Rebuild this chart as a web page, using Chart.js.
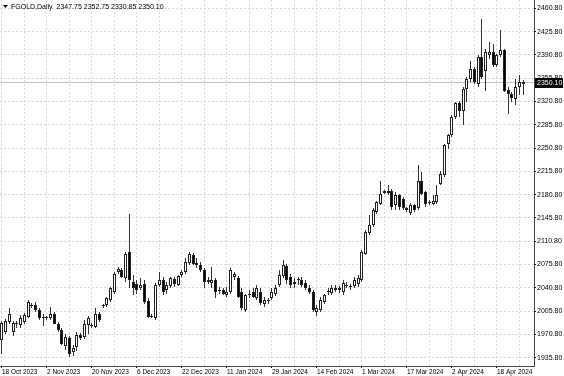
<!DOCTYPE html>
<html>
<head>
<meta charset="utf-8">
<script src="https://cdn.jsdelivr.net/npm/chart.js@4.4.0/dist/chart.umd.min.js"></script>
<style>
  body { margin: 0; background: #fff; }
  canvas { display: block; }
</style>
</head>
<body>
<canvas id="goldChart" width="564" height="376"></canvas>
<script>
// Daily candles, FGOLD
const opens = [
  1963, 1975, 1990, 1974, 1986, 1985, 1990, 1997, 2015, 2015,
  2007, 1995, 1995, 1995, 2002, 1987, 1977, 1953, 1966, 1945,
  1952, 1970, 1967, 1985, 1984, 1982, 2002, 2013, 2015, 2022,
  2035, 2065, 2067, 2055, 2094, 2050, 2047, 2040, 2047, 2021,
  1997, 1996, 2045, 2052, 2037, 2043, 2054, 2045, 2060, 2065,
  2078, 2090, 2078, 2075, 2068, 2050, 2048, 2053, 2037, 2037,
  2030, 2035, 2057, 2055, 2035, 2008, 2030, 2035, 2025, 2035,
  2017, 2021, 2025, 2032, 2045, 2058, 2073, 2057, 2046, 2052,
  2052, 2048, 2040, 2035, 2005, 2008, 2020, 2034, 2033, 2040,
  2038, 2035, 2045, 2043, 2044, 2047, 2052, 2092, 2123, 2135,
  2155, 2167, 2186, 2183, 2187, 2165, 2180, 2175, 2160, 2153,
  2165, 2160, 2202, 2185, 2170, 2167, 2170, 2197, 2210, 2257,
  2270, 2297, 2318, 2307, 2340, 2355, 2370, 2347, 2387, 2367,
  2390, 2395, 2375, 2390, 2398, 2338, 2332, 2325, 2342, 2347.75
];
const highs = [
  1991, 1994, 2010, 1991, 1991, 2000, 2003, 2022, 2018, 2019,
  2010, 2002, 1998, 2012, 2004, 1989, 1980, 1972, 1969, 1955,
  1975, 1973, 1992, 1999, 1988, 2010, 2004, 2017, 2027, 2042,
  2065, 2072, 2070, 2095, 2152, 2060, 2052, 2055, 2052, 2025,
  2002, 2048, 2065, 2057, 2050, 2057, 2057, 2060, 2068, 2085,
  2095, 2093, 2085, 2080, 2070, 2057, 2072, 2055, 2042, 2040,
  2042, 2070, 2065, 2058, 2040, 2032, 2037, 2040, 2045, 2040,
  2027, 2025, 2040, 2045, 2068, 2082, 2077, 2062, 2055, 2057,
  2057, 2052, 2045, 2037, 2015, 2027, 2032, 2040, 2045, 2045,
  2043, 2052, 2050, 2047, 2057, 2060, 2097, 2127, 2150, 2160,
  2172, 2202, 2188, 2195, 2190, 2185, 2182, 2177, 2162, 2168,
  2167, 2225, 2215, 2187, 2173, 2180, 2195, 2217, 2257, 2272,
  2300, 2320, 2322, 2342, 2357, 2382, 2372, 2390, 2445, 2400,
  2410, 2407, 2392, 2428, 2400, 2342, 2335, 2355, 2360, 2352.75
];
const lows = [
  1941, 1971, 1986, 1968, 1980, 1980, 1987, 1995, 2010, 2005,
  1993, 1983, 1992, 1992, 1986, 1975, 1955, 1947, 1937, 1939,
  1946, 1962, 1964, 1972, 1980, 1980, 1990, 2010, 2012, 2020,
  2032, 2062, 2055, 2050, 2040, 2030, 2032, 2037, 2017, 1995,
  1995, 1992, 2042, 2030, 2032, 2040, 2042, 2043, 2057, 2062,
  2075, 2075, 2070, 2065, 2040, 2047, 2040, 2025, 2032, 2030,
  2027, 2032, 2052, 2025, 2007, 2005, 2025, 2025, 2022, 2015,
  2012, 2017, 2022, 2028, 2042, 2055, 2047, 2040, 2040, 2045,
  2042, 2037, 2032, 2004, 1999, 2005, 2017, 2030, 2030, 2035,
  2033, 2030, 2040, 2038, 2040, 2042, 2050, 2090, 2120, 2132,
  2152, 2165, 2182, 2180, 2157, 2157, 2157, 2158, 2155, 2150,
  2155, 2157, 2180, 2162, 2165, 2165, 2167, 2195, 2207, 2250,
  2267, 2295, 2297, 2285, 2320, 2350, 2347, 2342, 2355, 2337,
  2385, 2372, 2372, 2387, 2335, 2302, 2320, 2315, 2330, 2330.85
];
const closes = [
  1988, 1991, 2002, 1988, 1987, 1995, 2000, 2019, 2014, 2007,
  1995, 1997, 1995, 2002, 1987, 1977, 1957, 1967, 1942, 1950,
  1970, 1965, 1987, 1996, 1983, 2002, 1993, 2015, 2025, 2040,
  2062, 2069, 2057, 2092, 2052, 2040, 2037, 2045, 2020, 1997,
  1998, 2045, 2052, 2035, 2045, 2055, 2046, 2058, 2065, 2080,
  2092, 2077, 2075, 2068, 2050, 2052, 2052, 2035, 2036, 2032,
  2035, 2067, 2062, 2027, 2010, 2030, 2032, 2027, 2040, 2018,
  2022, 2022, 2035, 2040, 2060, 2075, 2052, 2045, 2050, 2052,
  2045, 2040, 2035, 2008, 2010, 2022, 2030, 2035, 2040, 2038,
  2040, 2048, 2043, 2042, 2052, 2055, 2095, 2125, 2135, 2157,
  2170, 2182, 2184, 2187, 2162, 2180, 2162, 2160, 2157, 2165,
  2158, 2202, 2182, 2167, 2168, 2172, 2180, 2212, 2255, 2270,
  2297, 2318, 2307, 2340, 2355, 2370, 2350, 2387, 2357, 2395,
  2395, 2375, 2390, 2398, 2337, 2332, 2326, 2342, 2350, 2350.10
];

// date labels on the time axis, one every 12 bars
const tickLabels = [
  '18 Oct 2023', '2 Nov 2023', '20 Nov 2023', '6 Dec 2023', '22 Dec 2023', '11 Jan 2024',
  '29 Jan 2024', '14 Feb 2024', '1 Mar 2024', '17 Mar 2024', '2 Apr 2024', '18 Apr 2024'
];
// price levels on the right axis
const priceTicks = [
  1935.80, 1970.80, 2005.80, 2040.80, 2075.80, 2110.80, 2145.80, 2180.80,
  2215.80, 2250.80, 2285.80, 2320.80, 2355.80, 2390.80, 2425.80, 2460.80
];
const symbolName = 'FGOLD,Daily';
const lastPrice = 2350.10;

const FONT = "'Liberation Sans', Arial, sans-serif";

// wick = low..high, body = open..close
const wickData = lows.map((l, i) => ({ x: i, y: [l, highs[i]] }));
const bodyData = opens.map((o, i) => ({ x: i, y: [o, closes[i]] }));
const bodyColors = opens.map((o, i) => closes[i] >= o ? '#ffffff' : '#000000');

// no extra room for half labels at the ends of the axes
function noPadding(scale) {
    scale.paddingTop = 0;
    scale.paddingBottom = 0;
    scale.paddingLeft = 0;
    scale.paddingRight = 0;
}

// keep the thin candles on whole pixels so they stay crisp
const snapPlugin = {
    id: 'snap',
    beforeDatasetsDraw(chart) {
        chart.getSortedVisibleDatasetMetas().forEach(meta => {
            meta.data.forEach(el => {
                el.x = Math.floor(el.x) + 0.5;
                el.y = Math.round(el.y);
                el.base = Math.round(el.base);
            });
        });
    }
};

// header text, last price line and label
const overlayPlugin = {
    id: 'overlay',
    beforeDatasetsDraw(chart) {
        const { ctx, chartArea } = chart;
        const y = Math.round(chart.scales.y.getPixelForValue(lastPrice)) + 0.5;
        ctx.save();
        ctx.strokeStyle = '#c4c4c4';
        ctx.lineWidth = 1;
        ctx.beginPath();
        ctx.moveTo(chartArea.left, y);
        ctx.lineTo(chartArea.right, y);
        ctx.stroke();
        ctx.restore();
    },
    afterDraw(chart) {
        const { ctx, chartArea } = chart;
        const y = Math.round(chart.scales.y.getPixelForValue(lastPrice));
        ctx.save();
        // price box on the axis
        ctx.fillStyle = '#000';
        ctx.fillRect(chartArea.right + 1, y - 4, 28, 10);
        ctx.fillStyle = '#fff';
        ctx.font = '7px ' + FONT;
        ctx.textBaseline = 'middle';
        ctx.textAlign = 'left';
        ctx.fillText(lastPrice.toFixed(2), chartArea.right + 3, y + 1.5);

        // header
        ctx.fillStyle = '#000';
        ctx.beginPath();
        ctx.moveTo(3, 5);
        ctx.lineTo(8, 5);
        ctx.lineTo(5.5, 8);
        ctx.closePath();
        ctx.fill();
        const n = opens.length - 1;
        const header = symbolName + '  ' + [opens[n], highs[n], lows[n], closes[n]].map(v => v.toFixed(2)).join(' ');
        ctx.font = '7px ' + FONT;
        ctx.textBaseline = 'middle';
        ctx.fillText(header, 11, 7);
        ctx.restore();
    }
};

const ctx = document.getElementById('goldChart').getContext('2d');
new Chart(ctx, {
    type: 'bar',
    data: {
        datasets: [
            {
                label: 'body',
                data: bodyData,
                backgroundColor: bodyColors,
                borderColor: '#222',
                borderWidth: 1,
                borderSkipped: false,
                barThickness: 3,
                minBarLength: 1,
                inflateAmount: 0,
                grouped: false,
                order: 0
            },
            {
                label: 'wick',
                data: wickData,
                backgroundColor: '#333',
                borderWidth: 0,
                barThickness: 1,
                inflateAmount: 0,
                grouped: false,
                order: 1
            }
        ]
    },
    options: {
        responsive: false,
        animation: false,
        layout: { padding: 0 },
        plugins: {
            legend: { display: false },
            tooltip: { enabled: false }
        },
        scales: {
            x: {
                type: 'linear',
                offset: false,
                min: -0.53,
                max: 141.87,
                afterBuildTicks: scale => {
                    const t = [];
                    for (let v = 0; v < opens.length; v += 6) t.push({ value: v });
                    scale.ticks = t;
                },
                afterFit: scale => { scale.height = 10; noPadding(scale); },
                grid: {
                    offset: false,
                    color: '#d8d8d8',
                    tickLength: 2,
                    tickColor: c => (c.tick && c.tick.value % 12 === 0) ? '#000' : 'rgba(0,0,0,0)',
                    tickBorderDash: []
                },
                border: { display: true, color: '#444', width: 1, dash: [2, 2] },
                ticks: {
                    autoSkip: false,
                    maxRotation: 0,
                    align: 'start',
                    padding: 0,
                    color: '#000',
                    font: { family: FONT, size: 6.5 },
                    callback: v => v % 12 === 0 ? (tickLabels[v / 12] || '') : ''
                }
            },
            y: {
                position: 'right',
                min: 1923.3,
                max: 2473.3,
                afterBuildTicks: scale => {
                    scale.ticks = priceTicks.map(v => ({ value: v }));
                },
                afterFit: scale => { scale.width = 30; noPadding(scale); },
                grid: {
                    color: '#d8d8d8',
                    tickLength: 2,
                    tickColor: '#000',
                    tickBorderDash: []
                },
                border: { display: true, color: '#444', width: 1, dash: [2, 2] },
                ticks: {
                    padding: 1,
                    color: '#000',
                    font: { family: FONT, size: 7 },
                    callback: v => v.toFixed(2)
                }
            }
        }
    },
    plugins: [snapPlugin, overlayPlugin]
});
</script>
</body>
</html>
